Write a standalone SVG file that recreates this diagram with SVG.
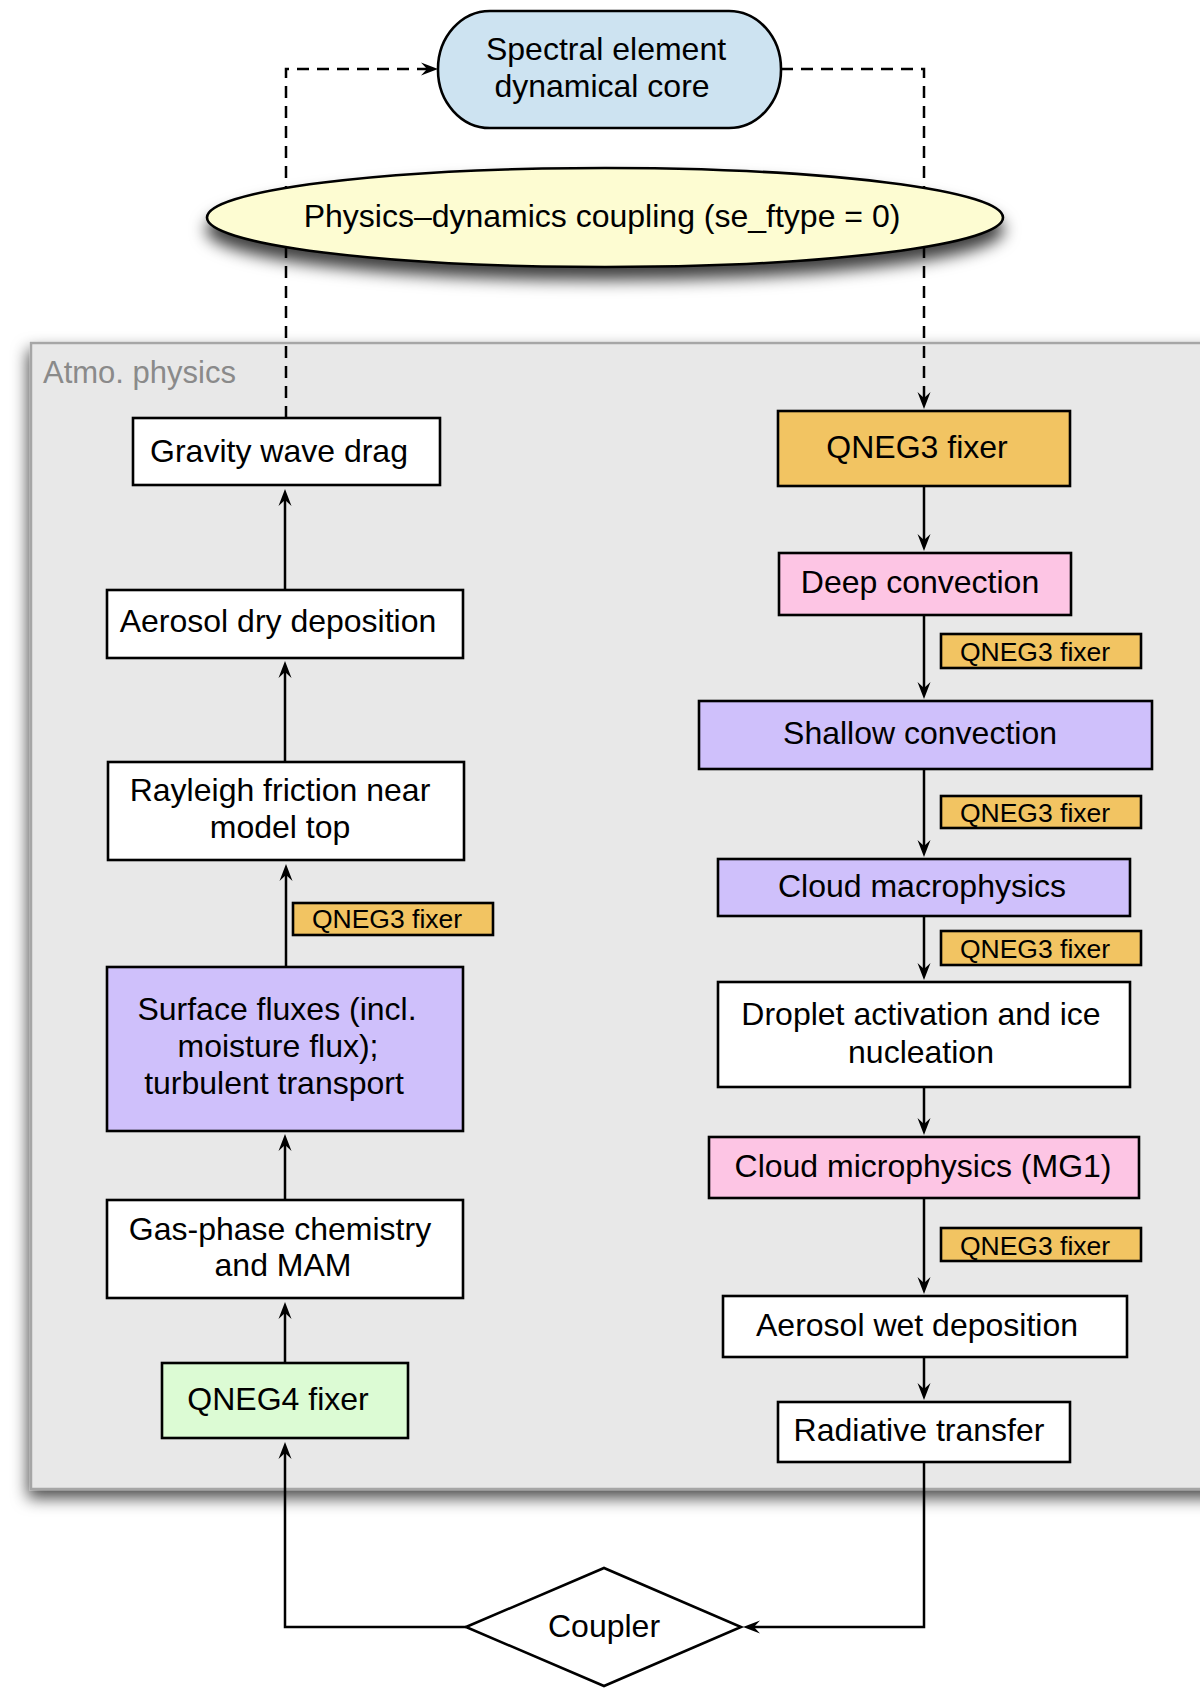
<svg xmlns="http://www.w3.org/2000/svg" width="1200" height="1690" viewBox="0 0 1200 1690">
<defs>
<style>
text{font-family:"Liberation Sans",Arial,sans-serif;fill:#000;}
.t{font-size:32px;text-anchor:middle;}
.s{font-size:26.5px;text-anchor:middle;}
.box{stroke:#000;stroke-width:2.6;}
.w{fill:#fff;}
.org{fill:#f2c462;}
.pink{fill:#fdc5e4;}
.lav{fill:#cfc0fb;}
.grn{fill:#dcfbd4;}
.c{fill:none;stroke:#000;stroke-width:2.5;marker-end:url(#ah);}
.d{stroke-dasharray:12 8;}
</style>
<marker id="ah" viewBox="-18 -8 20 16" markerWidth="20" markerHeight="16" refX="-8" refY="0" orient="auto" markerUnits="userSpaceOnUse">
<path d="M0,0 L-17,-6.5 L-11,0 L-17,6.5 Z" fill="#000"/>
</marker>
<filter id="sh1" x="-10%" y="-10%" width="120%" height="120%">
<feDropShadow dx="-2" dy="8" stdDeviation="8" flood-color="#000" flood-opacity="0.7"/>
</filter>
<filter id="sh2" x="-10%" y="-40%" width="120%" height="190%">
<feDropShadow dx="0" dy="12" stdDeviation="8" flood-color="#000" flood-opacity="0.75"/>
</filter>
</defs>

<g id="panel">
<rect x="31" y="343" width="1200" height="1146" fill="#e8e8e8" stroke="#a6a6a6" stroke-width="2.5" filter="url(#sh1)"/>
<text x="43" y="383" style="font-size:31px;fill:#8a8a8a;">Atmo. physics</text>
</g>

<g id="connectors">
<path class="c d" d="M286,418 V69 H430"/>
<path class="c d" d="M781,69 H924 V401"/>
<path class="c" d="M285,590 V497"/>
<path class="c" d="M285,762 V669"/>
<path class="c" d="M286,967 V872"/>
<path class="c" d="M285,1200 V1142"/>
<path class="c" d="M285,1363 V1310"/>
<path class="c" d="M466,1627 H285 V1450"/>
<path class="c" d="M924,1462 V1627 H751"/>
<path class="c" d="M924,486 V543"/>
<path class="c" d="M924,615 V691"/>
<path class="c" d="M924,769 V849"/>
<path class="c" d="M924,916 V972"/>
<path class="c" d="M924,1087 V1127"/>
<path class="c" d="M924,1198 V1286"/>
<path class="c" d="M924,1357 V1392"/>
</g>

<g id="spectral">
<rect x="438" y="11" width="343" height="117" rx="52" ry="58" fill="#cde3f1" stroke="#000" stroke-width="2.6"/>
<text class="t" x="606" y="60">Spectral element</text>
<text class="t" x="602" y="97">dynamical core</text>
</g>

<g id="coupling">
<ellipse cx="605" cy="217.5" rx="398" ry="49.5" fill="#fdfcd2" stroke="#000" stroke-width="2.6" filter="url(#sh2)"/>
<text class="t" x="602" y="227">Physics–dynamics coupling (se_ftype = 0)</text>
</g>

<g id="gravity">
<rect class="box w" x="133" y="418" width="307" height="67"/>
<text class="t" x="279" y="462">Gravity wave drag</text>
</g>
<g id="aerosol-dry">
<rect class="box w" x="107" y="590" width="356" height="68"/>
<text class="t" x="278" y="632">Aerosol dry deposition</text>
</g>
<g id="rayleigh">
<rect class="box w" x="108" y="762" width="356" height="98"/>
<text class="t" x="280" y="801">Rayleigh friction near</text>
<text class="t" x="280" y="838">model top</text>
</g>
<g id="qneg3-left">
<rect class="box org" x="293" y="903" width="200" height="32"/>
<text class="s" x="387" y="928">QNEG3 fixer</text>
</g>
<g id="surface">
<rect class="box lav" x="107" y="967" width="356" height="164"/>
<text class="t" x="277" y="1020">Surface fluxes (incl.</text>
<text class="t" x="278" y="1057">moisture flux);</text>
<text class="t" x="274" y="1094">turbulent transport</text>
</g>
<g id="gas">
<rect class="box w" x="107" y="1200" width="356" height="98"/>
<text class="t" x="280" y="1240">Gas-phase chemistry</text>
<text class="t" x="283" y="1276">and MAM</text>
</g>
<g id="qneg4">
<rect class="box grn" x="162" y="1363" width="246" height="75"/>
<text class="t" x="278" y="1410">QNEG4 fixer</text>
</g>

<g id="qneg3-top">
<rect class="box org" x="778" y="411" width="292" height="75"/>
<text class="t" x="917" y="458">QNEG3 fixer</text>
</g>
<g id="deep">
<rect class="box pink" x="779" y="553" width="292" height="62"/>
<text class="t" x="920" y="593">Deep convection</text>
</g>
<g id="qneg3-r1">
<rect class="box org" x="941" y="634" width="200" height="34"/>
<text class="s" x="1035" y="661">QNEG3 fixer</text>
</g>
<g id="shallow">
<rect class="box lav" x="699" y="701" width="453" height="68"/>
<text class="t" x="920" y="744">Shallow convection</text>
</g>
<g id="qneg3-r2">
<rect class="box org" x="941" y="796" width="200" height="32"/>
<text class="s" x="1035" y="822">QNEG3 fixer</text>
</g>
<g id="macro">
<rect class="box lav" x="718" y="859" width="412" height="57"/>
<text class="t" x="922" y="897">Cloud macrophysics</text>
</g>
<g id="qneg3-r3">
<rect class="box org" x="941" y="931" width="200" height="34"/>
<text class="s" x="1035" y="958">QNEG3 fixer</text>
</g>
<g id="droplet">
<rect class="box w" x="718" y="982" width="412" height="105"/>
<text class="t" x="921" y="1025">Droplet activation and ice</text>
<text class="t" x="921" y="1063">nucleation</text>
</g>
<g id="micro">
<rect class="box pink" x="709" y="1137" width="430" height="61"/>
<text class="t" x="923" y="1177">Cloud microphysics (MG1)</text>
</g>
<g id="qneg3-r4">
<rect class="box org" x="941" y="1228" width="200" height="33"/>
<text class="s" x="1035" y="1255">QNEG3 fixer</text>
</g>
<g id="wet">
<rect class="box w" x="723" y="1296" width="404" height="61"/>
<text class="t" x="917" y="1336">Aerosol wet deposition</text>
</g>
<g id="radiative">
<rect class="box w" x="778" y="1402" width="292" height="60"/>
<text class="t" x="919" y="1441">Radiative transfer</text>
</g>

<g id="coupler">
<polygon points="466,1627 604,1568 741,1627 604,1686" fill="#fff" stroke="#000" stroke-width="2.6"/>
<text class="t" x="604" y="1637">Coupler</text>
</g>
</svg>
